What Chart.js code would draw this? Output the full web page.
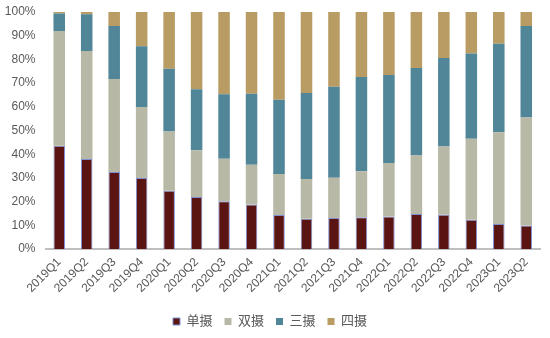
<!DOCTYPE html>
<html><head><meta charset="utf-8">
<script src="https://cdn.jsdelivr.net/npm/chart.js@4"></script>
<style>html,body{margin:0;padding:0;background:#fff}#wrap{width:550px;height:338px}</style>
</head><body><div id="wrap"><canvas id="c" width="550" height="338"></canvas></div>
<script>
const categories = ["2019Q1","2019Q2","2019Q3","2019Q4","2020Q1","2020Q2","2020Q3","2020Q4","2021Q1","2021Q2","2021Q3","2021Q4","2022Q1","2022Q2","2022Q3","2022Q4","2023Q1","2023Q2"];
const single = [43.6,38.0,32.5,30.0,24.6,21.9,20.2,18.8,14.3,12.8,13.1,13.4,13.7,14.8,14.5,12.3,10.6,9.9];
const dual   = [48.4,45.5,39.2,29.9,25.0,19.8,17.9,16.8,17.3,16.7,17.0,19.4,22.6,24.7,28.7,34.2,38.7,45.6];
const triple = [7.4,15.5,22.4,25.7,26.5,25.7,27.2,29.9,31.4,36.3,38.4,39.8,37.1,36.9,37.4,36.0,37.3,38.6];
const quad   = [0.6,1.0,5.9,14.4,23.9,32.6,34.7,34.5,37.0,34.2,31.5,27.4,26.6,23.6,19.4,17.5,13.4,5.9];
const seriesNames = ["单摄","双摄","三摄","四摄"];
const yTicks = [0,10,20,30,40,50,60,70,80,90,100];

const FONT = "'Liberation Sans','Noto Sans CJK SC',sans-serif";
new Chart(document.getElementById('c'), {
  type: 'bar',
  data: {
    labels: categories,
    datasets: [
      {label: seriesNames[0], data: single, backgroundColor: '#5a1512', borderColor: '#7f8fd2', borderWidth: 1},
      {label: seriesNames[1], data: dual, backgroundColor: '#b8b8a6', borderWidth: 0},
      {label: seriesNames[2], data: triple, backgroundColor: '#518598', borderWidth: 0},
      {label: seriesNames[3], data: quad, backgroundColor: '#b89c64', borderWidth: 0}
    ]
  },
  options: {
    responsive: false,
    animation: false,
    devicePixelRatio: 1,
    datasets: {bar: {barPercentage: 0.42, categoryPercentage: 1}},
    layout: {padding: {top: 12, right: 10, left: 0, bottom: 0}},
    plugins: {
      tooltip: {enabled: false},
      legend: {
        position: 'bottom',
        labels: {
          font: {family: FONT, size: 13}, color: '#595959',
          boxWidth: 7, boxHeight: 7, padding: 12,
          generateLabels(chart) {
            return chart.data.datasets.map((d, i) => ({
              text: d.label, fillStyle: d.backgroundColor,
              strokeStyle: i === 0 ? '#7f8fd2' : d.backgroundColor,
              lineWidth: i === 0 ? 1 : 0, datasetIndex: i, fontColor: '#595959'
            }));
          }
        }
      }
    },
    scales: {
      x: {
        stacked: true,
        grid: {display: false, drawTicks: false},
        border: {display: true, color: '#bfbfbf', width: 2},
        ticks: {font: {family: FONT, size: 12}, color: '#595959', maxRotation: 45, minRotation: 45, padding: 6},
        afterFit(s) { s.height = 54; s.paddingTop = 0; }
      },
      y: {
        stacked: true, min: 0, max: 100,
        grid: {display: false, drawTicks: false},
        border: {display: false},
        afterBuildTicks(s) { s.ticks = yTicks.map(v => ({value: v})); },
        ticks: {font: {family: FONT, size: 12}, color: '#595959', padding: 10, callback: v => v + '%'},
        afterFit(s) { s.width = 45.5; s.paddingTop = 0; s.paddingBottom = 0; }
      }
    }
  }
});
</script></body></html>
